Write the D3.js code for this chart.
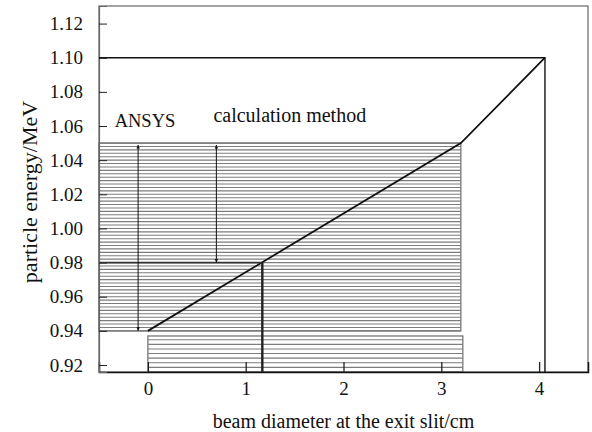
<!DOCTYPE html>
<html>
<head>
<meta charset="utf-8">
<script src="https://cdn.jsdelivr.net/npm/d3@7"></script>
<style>
  body { margin: 0; background: #fff; }
  svg text { font-family: "Liberation Serif", "Times New Roman", serif; fill: #111; }
</style>
</head>
<body>
<svg id="chart" width="592" height="432"></svg>
<script>
// data
const xTicks = [0, 1, 2, 3, 4];
const yTicks = [0.92, 0.94, 0.96, 0.98, 1.00, 1.02, 1.04, 1.06, 1.08, 1.10, 1.12];
const energyCurve = [[0, 0.94], [3.2, 1.05], [4.06, 1.10]];   // diameter, energy
const ansysBand = [-0.5, 3.2, 0.94, 1.05];                     // x0, x1, e0, e1
const lowerBand = [0, 3.22, 0.9159, 0.937];
const calcPoint = [1.17, 0.98];
const ansysArrow = [-0.1, 0.94, 1.05];
const calcArrow = [0.7, 0.98, 1.05];

const svg = d3.select("#chart");
const margin = { top: 6, right: 4, bottom: 60, left: 99 };
const width = +svg.attr("width") - margin.left - margin.right;
const height = +svg.attr("height") - margin.top - margin.bottom;

const x = d3.scaleLinear().domain([-0.5, 4.5]).range([0, width]);
const y = d3.scaleLinear().domain([0.9159, 1.1303]).range([height, 0]);

const chart = svg.append("g")
    .attr("transform", `translate(${margin.left},${margin.top})`);

// arrow heads
const defs = svg.append("defs");
["start", "end"].forEach(k => {
    defs.append("marker")
        .attr("id", "arr-" + k)
        .attr("viewBox", "0 0 10 10")
        .attr("refX", 10).attr("refY", 5)
        .attr("markerWidth", 3.5).attr("markerHeight", 6)
        .attr("orient", k === "end" ? "auto" : "auto-start-reverse")
        .append("path")
        .attr("d", "M0,0 L10,5 L0,10 Z")
        .attr("fill", "#111");
});

// hatched bands
function hatch(b, step, col) {
    const g = chart.append("g");
    const lines = d3.range(b[2], b[3] + 1e-9, step);
    g.selectAll("line")
        .data(lines)
        .enter().append("line")
        .attr("x1", x(b[0])).attr("x2", x(b[1]))
        .attr("y1", d => y(d)).attr("y2", d => y(d))
        .attr("stroke", col).attr("stroke-width", 1.1);
    g.append("rect")
        .attr("x", x(b[0])).attr("y", y(b[3]))
        .attr("width", x(b[1]) - x(b[0]))
        .attr("height", y(b[2]) - y(b[3]))
        .attr("fill", "none").attr("stroke", "#777").attr("stroke-width", 1.3);
}
hatch(ansysBand, 0.002, "#7d7d7d");
hatch(lowerBand, 0.0027, "#7d7d7d");

// frame
chart.append("rect")
    .attr("width", width).attr("height", height)
    .attr("fill", "none").attr("stroke", "#666").attr("stroke-width", 1.2);

// axes with inward ticks
const xAxis = d3.axisBottom(x).tickValues(xTicks).tickSize(-10).tickPadding(10).tickFormat(d3.format("d"));
const yAxis = d3.axisLeft(y).tickValues(yTicks).tickSize(-8).tickPadding(16).tickFormat(d3.format(".2f"));

chart.append("g")
    .attr("transform", `translate(0,${height})`)
    .call(xAxis)
    .call(g => g.select(".domain").attr("stroke", "#111").attr("stroke-width", 1.5))
    .call(g => g.selectAll(".tick line").attr("stroke", "#222").attr("stroke-width", 1.3))
    .call(g => g.selectAll("text").attr("font-size", 19).attr("fill", "#111"));

chart.append("g")
    .call(yAxis)
    .call(g => g.select(".domain").attr("stroke", "#666").attr("stroke-width", 1.2))
    .call(g => g.selectAll(".tick line").attr("stroke", "#222"))
    .call(g => g.selectAll("text").attr("font-size", 19).attr("fill", "#111"));

// 1.10 level and curve
const line = d3.line().x(d => x(d[0])).y(d => y(d[1]));
const last = energyCurve[energyCurve.length - 1];
chart.append("path")
    .attr("d", line([[x.invert(0), last[1]], last, [last[0], y.invert(height)]]))
    .attr("fill", "none").attr("stroke", "#111").attr("stroke-width", 1.4);
chart.append("path")
    .attr("d", line(energyCurve))
    .attr("fill", "none").attr("stroke", "#111").attr("stroke-width", 1.8);

// calculation point
chart.append("path")
    .attr("d", line([[x.invert(0), calcPoint[1]], calcPoint]))
    .attr("fill", "none").attr("stroke", "#333").attr("stroke-width", 1.8);
chart.append("path")
    .attr("d", line([calcPoint, [calcPoint[0], y.invert(height)]]))
    .attr("fill", "none").attr("stroke", "#222").attr("stroke-width", 2.4);

// double arrows
[ansysArrow, calcArrow].forEach(a => {
    chart.append("line")
        .attr("x1", x(a[0])).attr("x2", x(a[0]))
        .attr("y1", y(a[2]) + 2).attr("y2", y(a[1]))
        .attr("stroke", "#111").attr("stroke-width", 1)
        .attr("marker-start", "url(#arr-start)")
        .attr("marker-end", "url(#arr-end)");
});

// annotations
chart.append("text")
    .attr("x", x(-0.34)).attr("y", y(1.0597))
    .attr("font-size", 18.5)
    .text("ANSYS");
chart.append("text")
    .attr("x", x(0.67)).attr("y", y(1.0625))
    .attr("font-size", 20)
    .text("calculation method");

// axis titles
svg.append("text")
    .attr("x", margin.left + x(2))
    .attr("y", 428)
    .attr("text-anchor", "middle")
    .attr("font-size", 20)
    .text("beam diameter at the exit slit/cm");
svg.append("text")
    .attr("transform", `translate(37,192) rotate(-90)`)
    .attr("text-anchor", "middle")
    .attr("font-size", 22)
    .text("particle energy/MeV");
</script>
</body>
</html>
